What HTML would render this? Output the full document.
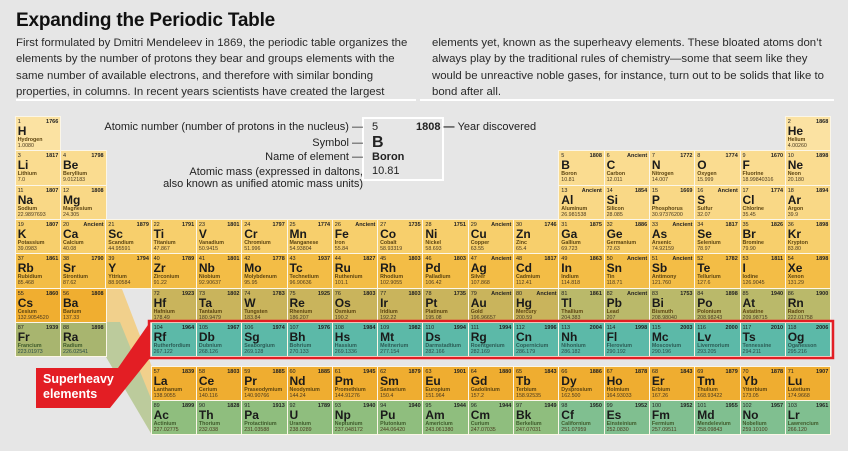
<!DOCTYPE html>
<html><head><meta charset="utf-8"><style>
body{margin:0;width:848px;height:451px;background:#e6e6e6;font-family:"Liberation Sans",sans-serif;position:relative;overflow:hidden;color:#222}
.t{position:absolute;left:16px;top:10px;font-size:19px;font-weight:bold;color:#111;letter-spacing:-0.2px}
.p{position:absolute;font-size:11.4px;line-height:16.4px;white-space:nowrap;color:#2a2a2a}
.rule{position:absolute;top:99px;height:2px;background:#fff}
.c{position:absolute;box-sizing:border-box;width:46.6px;height:35.6px;margin-left:-1.3px;margin-top:-1.3px;border:1.3px solid #fbf6e8;overflow:hidden}
.c i{position:absolute;left:2px;top:2px;font-size:5.5px;font-style:normal}
.c b{position:absolute;right:2px;top:2px;font-size:5.5px}
.c s{position:absolute;left:2px;top:7px;font-size:12px;font-weight:bold;text-decoration:none;color:#1a1a1a}
.c u{position:absolute;left:2px;top:20px;font-size:5.3px;font-weight:bold;text-decoration:none;color:#5c4410;white-space:nowrap}
.c em{position:absolute;left:2px;top:26px;font-size:5.3px;font-style:normal;color:#4a3a20;white-space:nowrap}
.x0{left:16px}.x1{left:61.3px}.x2{left:106.6px}.x3{left:151.9px}.x4{left:197.2px}.x5{left:242.5px}.x6{left:287.8px}.x7{left:333.1px}.x8{left:378.4px}.x9{left:423.7px}.x10{left:469px}.x11{left:514.3px}.x12{left:559.6px}.x13{left:604.9px}.x14{left:650.2px}.x15{left:695.5px}.x16{left:740.8px}.x17{left:786px}
.r1{top:117px;background:#fbe2a2}.r2{top:151.5px;background:#fadc90}.r3{top:185.8px;background:#f9d886}.r4{top:220px;background:#f7cf6c}.r5{top:254.5px;background:#f3bd46}
.r6{top:288.8px;background:#c9b45c}.r7{top:323px;background:#5cb9a8}.r8{top:367px;background:#efad30}.r9{top:401px;background:#8fbe7e}
.o{background:#f0ae30}.ol{background:#bab96a}.g{background:#a8b56f}.gt{background:#80bf90}
.r7 u{color:#2c5c55}.r7 em{color:#2c4c48}.r9 u,.g u{color:#3e5a2a}
.lg{position:absolute;font-size:11px;white-space:nowrap;color:#222}
</style></head><body>
<div class="t">Expanding the Periodic Table</div>
<div class="p" style="left:16px;top:35px">First formulated by Dmitri Mendeleev in 1869, the periodic table organizes the<br>elements by the number of protons they bear and groups elements with the<br>same number of available electrons, and therefore with similar bonding<br>properties, in columns. In recent years scientists have created the largest</div>
<div class="p" style="left:432px;top:35px">elements yet, known as the superheavy elements. These bloated atoms don’t<br>always play by the traditional rules of chemistry—some that seem like they<br>would be unreactive noble gases, for instance, turn out to be solids that like to<br>bond after all.</div>
<div class="rule" style="left:16px;width:400px"></div>
<div class="rule" style="left:420px;width:414px"></div>

<svg style="position:absolute;left:0;top:0" width="848" height="451">
<polygon points="106,289 122,289 152,367 152,400 106,322" fill="#f1d08c"/>
<polygon points="106,322 120,322 152,401 152,435 106,357" fill="#bccb9c"/>
<rect x="363" y="118" width="80" height="62" fill="none" stroke="#fff" stroke-width="2"/>
</svg>

<div class="lg" style="right:485px;top:121px">Atomic number (number of protons in the nucleus) —</div>
<div class="lg" style="right:485px;top:137px">Symbol —</div>
<div class="lg" style="right:485px;top:151px">Name of element —</div>
<div class="lg" style="right:485px;top:166px;text-align:right">Atomic mass (expressed in daltons,<br>also known as unified atomic mass units)</div>
<div class="lg" style="left:372px;top:121px">5</div>
<div class="lg" style="left:416px;top:121px;font-weight:bold">1808 — <span style="font-weight:normal">Year discovered</span></div>
<div class="lg" style="left:372px;top:134px;font-size:16px;font-weight:bold">B</div>
<div class="lg" style="left:372px;top:151px;font-weight:bold">Boron</div>
<div class="lg" style="left:372px;top:165px">10.81</div>

<div class="c r1 x0"><i>1</i><b>1766</b><s>H</s><u>Hydrogen</u><em>1.0080</em></div>
<div class="c r1 x17"><i>2</i><b>1868</b><s>He</s><u>Helium</u><em>4.00260</em></div>

<div class="c r2 x0"><i>3</i><b>1817</b><s>Li</s><u>Lithium</u><em>7.0</em></div>
<div class="c r2 x1"><i>4</i><b>1798</b><s>Be</s><u>Beryllium</u><em>9.012183</em></div>
<div class="c r2 x12"><i>5</i><b>1808</b><s>B</s><u>Boron</u><em>10.81</em></div>
<div class="c r2 x13"><i>6</i><b>Ancient</b><s>C</s><u>Carbon</u><em>12.011</em></div>
<div class="c r2 x14"><i>7</i><b>1772</b><s>N</s><u>Nitrogen</u><em>14.007</em></div>
<div class="c r2 x15"><i>8</i><b>1774</b><s>O</s><u>Oxygen</u><em>15.999</em></div>
<div class="c r2 x16"><i>9</i><b>1670</b><s>F</s><u>Fluorine</u><em>18.99840316</em></div>
<div class="c r2 x17"><i>10</i><b>1898</b><s>Ne</s><u>Neon</u><em>20.180</em></div>

<div class="c r3 x0"><i>11</i><b>1807</b><s>Na</s><u>Sodium</u><em>22.9897693</em></div>
<div class="c r3 x1"><i>12</i><b>1808</b><s>Mg</s><u>Magnesium</u><em>24.305</em></div>
<div class="c r3 x12"><i>13</i><b>Ancient</b><s>Al</s><u>Aluminum</u><em>26.981538</em></div>
<div class="c r3 x13"><i>14</i><b>1854</b><s>Si</s><u>Silicon</u><em>28.085</em></div>
<div class="c r3 x14"><i>15</i><b>1669</b><s>P</s><u>Phosphorus</u><em>30.97376200</em></div>
<div class="c r3 x15"><i>16</i><b>Ancient</b><s>S</s><u>Sulfur</u><em>32.07</em></div>
<div class="c r3 x16"><i>17</i><b>1774</b><s>Cl</s><u>Chlorine</u><em>35.45</em></div>
<div class="c r3 x17"><i>18</i><b>1894</b><s>Ar</s><u>Argon</u><em>39.9</em></div>

<div class="c r4 x0"><i>19</i><b>1807</b><s>K</s><u>Potassium</u><em>39.0983</em></div>
<div class="c r4 x1"><i>20</i><b>Ancient</b><s>Ca</s><u>Calcium</u><em>40.08</em></div>
<div class="c r4 x2"><i>21</i><b>1879</b><s>Sc</s><u>Scandium</u><em>44.95591</em></div>
<div class="c r4 x3"><i>22</i><b>1791</b><s>Ti</s><u>Titanium</u><em>47.867</em></div>
<div class="c r4 x4"><i>23</i><b>1801</b><s>V</s><u>Vanadium</u><em>50.9415</em></div>
<div class="c r4 x5"><i>24</i><b>1797</b><s>Cr</s><u>Chromium</u><em>51.996</em></div>
<div class="c r4 x6"><i>25</i><b>1774</b><s>Mn</s><u>Manganese</u><em>54.93804</em></div>
<div class="c r4 x7"><i>26</i><b>Ancient</b><s>Fe</s><u>Iron</u><em>55.84</em></div>
<div class="c r4 x8"><i>27</i><b>1735</b><s>Co</s><u>Cobalt</u><em>58.93319</em></div>
<div class="c r4 x9"><i>28</i><b>1751</b><s>Ni</s><u>Nickel</u><em>58.693</em></div>
<div class="c r4 x10"><i>29</i><b>Ancient</b><s>Cu</s><u>Copper</u><em>63.55</em></div>
<div class="c r4 x11"><i>30</i><b>1746</b><s>Zn</s><u>Zinc</u><em>65.4</em></div>
<div class="c r4 x12"><i>31</i><b>1875</b><s>Ga</s><u>Gallium</u><em>69.723</em></div>
<div class="c r4 x13"><i>32</i><b>1886</b><s>Ge</s><u>Germanium</u><em>72.63</em></div>
<div class="c r4 x14"><i>33</i><b>Ancient</b><s>As</s><u>Arsenic</u><em>74.92159</em></div>
<div class="c r4 x15"><i>34</i><b>1817</b><s>Se</s><u>Selenium</u><em>78.97</em></div>
<div class="c r4 x16"><i>35</i><b>1826</b><s>Br</s><u>Bromine</u><em>79.90</em></div>
<div class="c r4 x17"><i>36</i><b>1898</b><s>Kr</s><u>Krypton</u><em>83.80</em></div>

<div class="c r5 x0"><i>37</i><b>1861</b><s>Rb</s><u>Rubidium</u><em>85.468</em></div>
<div class="c r5 x1"><i>38</i><b>1790</b><s>Sr</s><u>Strontium</u><em>87.62</em></div>
<div class="c r5 x2"><i>39</i><b>1794</b><s>Y</s><u>Yttrium</u><em>88.90584</em></div>
<div class="c r5 x3"><i>40</i><b>1789</b><s>Zr</s><u>Zirconium</u><em>91.22</em></div>
<div class="c r5 x4"><i>41</i><b>1801</b><s>Nb</s><u>Niobium</u><em>92.90637</em></div>
<div class="c r5 x5"><i>42</i><b>1778</b><s>Mo</s><u>Molybdenum</u><em>95.95</em></div>
<div class="c r5 x6"><i>43</i><b>1937</b><s>Tc</s><u>Technetium</u><em>96.90636</em></div>
<div class="c r5 x7"><i>44</i><b>1827</b><s>Ru</s><u>Ruthenium</u><em>101.1</em></div>
<div class="c r5 x8"><i>45</i><b>1803</b><s>Rh</s><u>Rhodium</u><em>102.9055</em></div>
<div class="c r5 x9"><i>46</i><b>1803</b><s>Pd</s><u>Palladium</u><em>106.42</em></div>
<div class="c r5 x10"><i>47</i><b>Ancient</b><s>Ag</s><u>Silver</u><em>107.868</em></div>
<div class="c r5 x11"><i>48</i><b>1817</b><s>Cd</s><u>Cadmium</u><em>112.41</em></div>
<div class="c r5 x12"><i>49</i><b>1863</b><s>In</s><u>Indium</u><em>114.818</em></div>
<div class="c r5 x13"><i>50</i><b>Ancient</b><s>Sn</s><u>Tin</u><em>118.71</em></div>
<div class="c r5 x14"><i>51</i><b>Ancient</b><s>Sb</s><u>Antimony</u><em>121.760</em></div>
<div class="c r5 x15"><i>52</i><b>1782</b><s>Te</s><u>Tellurium</u><em>127.6</em></div>
<div class="c r5 x16"><i>53</i><b>1811</b><s>I</s><u>Iodine</u><em>126.9045</em></div>
<div class="c r5 x17"><i>54</i><b>1898</b><s>Xe</s><u>Xenon</u><em>131.29</em></div>

<div class="c r6 o x0"><i>55</i><b>1860</b><s>Cs</s><u>Cesium</u><em>132.9054520</em></div>
<div class="c r6 o x1"><i>56</i><b>1808</b><s>Ba</s><u>Barium</u><em>137.33</em></div>
<div class="c r6 x3"><i>72</i><b>1923</b><s>Hf</s><u>Hafnium</u><em>178.49</em></div>
<div class="c r6 x4"><i>73</i><b>1802</b><s>Ta</s><u>Tantalum</u><em>180.9479</em></div>
<div class="c r6 x5"><i>74</i><b>1783</b><s>W</s><u>Tungsten</u><em>183.84</em></div>
<div class="c r6 x6"><i>75</i><b>1925</b><s>Re</s><u>Rhenium</u><em>186.207</em></div>
<div class="c r6 x7"><i>76</i><b>1803</b><s>Os</s><u>Osmium</u><em>190.2</em></div>
<div class="c r6 x8"><i>77</i><b>1803</b><s>Ir</s><u>Iridium</u><em>192.22</em></div>
<div class="c r6 x9"><i>78</i><b>1735</b><s>Pt</s><u>Platinum</u><em>195.08</em></div>
<div class="c r6 x10"><i>79</i><b>Ancient</b><s>Au</s><u>Gold</u><em>196.96657</em></div>
<div class="c r6 x11"><i>80</i><b>Ancient</b><s>Hg</s><u>Mercury</u><em>200.59</em></div>
<div class="c r6 ol x12"><i>81</i><b>1861</b><s>Tl</s><u>Thallium</u><em>204.383</em></div>
<div class="c r6 ol x13"><i>82</i><b>Ancient</b><s>Pb</s><u>Lead</u><em>207</em></div>
<div class="c r6 ol x14"><i>83</i><b>1753</b><s>Bi</s><u>Bismuth</u><em>208.98040</em></div>
<div class="c r6 ol x15"><i>84</i><b>1898</b><s>Po</s><u>Polonium</u><em>208.98243</em></div>
<div class="c r6 ol x16"><i>85</i><b>1940</b><s>At</s><u>Astatine</u><em>209.98715</em></div>
<div class="c r6 ol x17"><i>86</i><b>1900</b><s>Rn</s><u>Radon</u><em>222.01758</em></div>

<div class="c r7 g x0"><i>87</i><b>1939</b><s>Fr</s><u>Francium</u><em>223.01973</em></div>
<div class="c r7 g x1"><i>88</i><b>1898</b><s>Ra</s><u>Radium</u><em>226.02541</em></div>
<div class="c r7 x3"><i>104</i><b>1964</b><s>Rf</s><u>Rutherfordium</u><em>267.122</em></div>
<div class="c r7 x4"><i>105</i><b>1967</b><s>Db</s><u>Dubnium</u><em>268.126</em></div>
<div class="c r7 x5"><i>106</i><b>1974</b><s>Sg</s><u>Seaborgium</u><em>269.128</em></div>
<div class="c r7 x6"><i>107</i><b>1976</b><s>Bh</s><u>Bohrium</u><em>270.133</em></div>
<div class="c r7 x7"><i>108</i><b>1984</b><s>Hs</s><u>Hassium</u><em>269.1336</em></div>
<div class="c r7 x8"><i>109</i><b>1982</b><s>Mt</s><u>Meitnerium</u><em>277.154</em></div>
<div class="c r7 x9"><i>110</i><b>1994</b><s>Ds</s><u>Darmstadtium</u><em>282.166</em></div>
<div class="c r7 x10"><i>111</i><b>1994</b><s>Rg</s><u>Roentgenium</u><em>282.169</em></div>
<div class="c r7 x11"><i>112</i><b>1996</b><s>Cn</s><u>Copernicium</u><em>286.179</em></div>
<div class="c r7 x12"><i>113</i><b>2004</b><s>Nh</s><u>Nihonium</u><em>286.182</em></div>
<div class="c r7 x13"><i>114</i><b>1998</b><s>Fl</s><u>Flerovium</u><em>290.192</em></div>
<div class="c r7 x14"><i>115</i><b>2003</b><s>Mc</s><u>Moscovium</u><em>290.196</em></div>
<div class="c r7 x15"><i>116</i><b>2000</b><s>Lv</s><u>Livermorium</u><em>293.205</em></div>
<div class="c r7 x16"><i>117</i><b>2010</b><s>Ts</s><u>Tennessine</u><em>294.211</em></div>
<div class="c r7 x17"><i>118</i><b>2006</b><s>Og</s><u>Oganesson</u><em>295.216</em></div>

<div class="c r8 x3"><i>57</i><b>1839</b><s>La</s><u>Lanthanum</u><em>138.9055</em></div>
<div class="c r8 x4"><i>58</i><b>1803</b><s>Ce</s><u>Cerium</u><em>140.116</em></div>
<div class="c r8 x5"><i>59</i><b>1885</b><s>Pr</s><u>Praseodymium</u><em>140.90766</em></div>
<div class="c r8 x6"><i>60</i><b>1885</b><s>Nd</s><u>Neodymium</u><em>144.24</em></div>
<div class="c r8 x7"><i>61</i><b>1945</b><s>Pm</s><u>Promethium</u><em>144.91276</em></div>
<div class="c r8 x8"><i>62</i><b>1879</b><s>Sm</s><u>Samarium</u><em>150.4</em></div>
<div class="c r8 x9"><i>63</i><b>1901</b><s>Eu</s><u>Europium</u><em>151.964</em></div>
<div class="c r8 x10"><i>64</i><b>1880</b><s>Gd</s><u>Gadolinium</u><em>157.2</em></div>
<div class="c r8 x11"><i>65</i><b>1843</b><s>Tb</s><u>Terbium</u><em>158.92535</em></div>
<div class="c r8 x12"><i>66</i><b>1886</b><s>Dy</s><u>Dysprosium</u><em>162.500</em></div>
<div class="c r8 x13"><i>67</i><b>1878</b><s>Ho</s><u>Holmium</u><em>164.93033</em></div>
<div class="c r8 x14"><i>68</i><b>1843</b><s>Er</s><u>Erbium</u><em>167.26</em></div>
<div class="c r8 x15"><i>69</i><b>1879</b><s>Tm</s><u>Thulium</u><em>168.93422</em></div>
<div class="c r8 x16"><i>70</i><b>1878</b><s>Yb</s><u>Ytterbium</u><em>173.05</em></div>
<div class="c r8 x17"><i>71</i><b>1907</b><s>Lu</s><u>Lutetium</u><em>174.9668</em></div>

<div class="c r9 x3"><i>89</i><b>1899</b><s>Ac</s><u>Actinium</u><em>227.02775</em></div>
<div class="c r9 x4"><i>90</i><b>1828</b><s>Th</s><u>Thorium</u><em>232.038</em></div>
<div class="c r9 x5"><i>91</i><b>1913</b><s>Pa</s><u>Protactinium</u><em>231.03588</em></div>
<div class="c r9 x6"><i>92</i><b>1789</b><s>U</s><u>Uranium</u><em>238.0289</em></div>
<div class="c r9 x7"><i>93</i><b>1940</b><s>Np</s><u>Neptunium</u><em>237.048172</em></div>
<div class="c r9 x8"><i>94</i><b>1940</b><s>Pu</s><u>Plutonium</u><em>244.06420</em></div>
<div class="c r9 x9"><i>95</i><b>1944</b><s>Am</s><u>Americium</u><em>243.061380</em></div>
<div class="c r9 x10"><i>96</i><b>1944</b><s>Cm</s><u>Curium</u><em>247.07035</em></div>
<div class="c r9 x11"><i>97</i><b>1949</b><s>Bk</s><u>Berkelium</u><em>247.07031</em></div>
<div class="c r9 gt x12"><i>98</i><b>1950</b><s>Cf</s><u>Californium</u><em>251.07959</em></div>
<div class="c r9 gt x13"><i>99</i><b>1952</b><s>Es</s><u>Einsteinium</u><em>252.0830</em></div>
<div class="c r9 gt x14"><i>100</i><b>1952</b><s>Fm</s><u>Fermium</u><em>257.09511</em></div>
<div class="c r9 gt x15"><i>101</i><b>1955</b><s>Md</s><u>Mendelevium</u><em>258.09843</em></div>
<div class="c r9 gt x16"><i>102</i><b>1957</b><s>No</s><u>Nobelium</u><em>259.10100</em></div>
<div class="c r9 gt x17"><i>103</i><b>1961</b><s>Lr</s><u>Lawrencium</u><em>266.120</em></div>

<svg style="position:absolute;left:0;top:0" width="848" height="451">
<rect x="149" y="321" width="684" height="37" fill="none" stroke="#e31e24" stroke-width="2.5"/>
<polygon points="36,368 118,368 150,322 150,358 110,408 36,408" fill="#e31e24"/>
</svg>
<div style="position:absolute;left:43px;top:372px;color:#fff;font-weight:bold;font-size:12.5px;line-height:15px">Superheavy<br>elements</div>
</body></html>
